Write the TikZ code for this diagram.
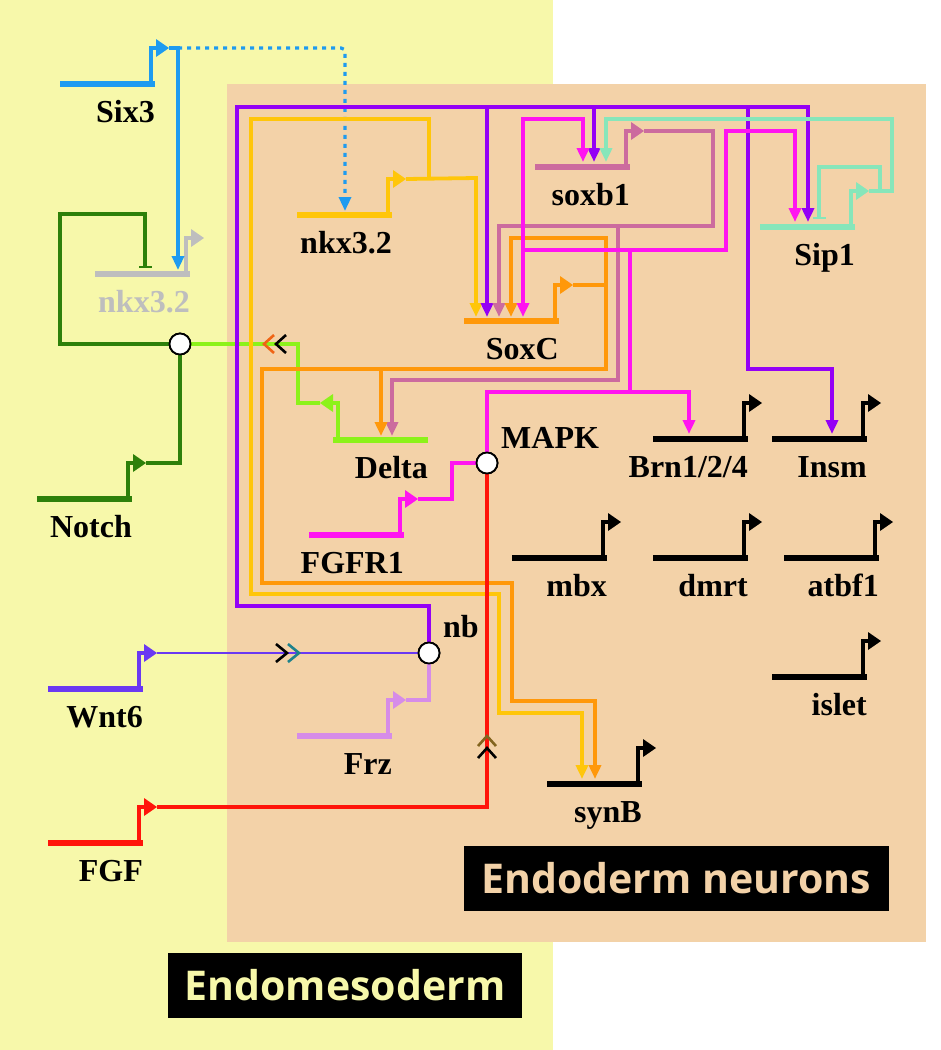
\documentclass[tikz,border=0pt]{standalone}
\usepackage{fontspec}
\setmainfont{Liberation Serif}
\newfontfamily\regionfont{Open Sans}
\usetikzlibrary{arrows.meta}

\definecolor{yellowbg}{RGB}{247,248,170}
\definecolor{peachbg}{RGB}{243,210,168}
\definecolor{sixblue}{RGB}{30,155,240}
\definecolor{nkxgray}{RGB}{190,190,190}
\definecolor{notchgreen}{RGB}{46,128,10}
\definecolor{deltagreen}{RGB}{140,242,26}
\definecolor{nkxyellow}{RGB}{255,198,10}
\definecolor{soxbmauve}{RGB}{204,107,158}
\definecolor{soxcorange}{RGB}{255,152,10}
\definecolor{sipaqua}{RGB}{135,230,186}
\definecolor{mapkmag}{RGB}{255,20,240}
\definecolor{nbpurple}{RGB}{148,0,245}
\definecolor{wntviolet}{RGB}{106,56,242}
\definecolor{frzlilac}{RGB}{214,140,232}
\definecolor{fgfred}{RGB}{255,20,10}
\definecolor{chevorange}{RGB}{240,100,20}
\definecolor{chevteal}{RGB}{30,130,140}
\definecolor{chevolive}{RGB}{130,100,30}

% gene: [label colour] name, bar end x, bar y, colour, text
\newcommand{\gene}[6][black]{%
  \draw[genebar,#5] (#3-95,#4) -- (#3,#4);
  \draw[genestem,#5] (#3-4,#4+2) -- (#3-4,#4-36) -- (#3+2,#4-36);
  \fill[#5] (#3+1,#4-45) -- (#3+14,#4-36) -- (#3+1,#4-27) -- cycle;
  \coordinate (#2) at (#3+14,#4-36);
  \node[genelab,text=#1,anchor=base east] (#2lab) at (#3,#4+38) {#6};
}

\begin{document}
\begin{tikzpicture}[x=1pt, y=-1pt,
    genebar/.style={line width=6pt},
    genestem/.style={line width=4.5pt},
    genelab/.style={font=\bfseries\fontsize{32}{34}\selectfont, inner sep=0pt},
    wire/.style={line width=3.8pt},
    thinwire/.style={line width=3.2pt},
    arr/.style={-{Triangle[length=14pt,width=12pt]}},
    stop/.style={-{Bar[width=13pt,line width=2.5pt]}},
    chev/.style={line width=2.6pt},
    junc/.style={circle, draw=black, fill=white, line width=1.8pt, minimum size=21pt, inner sep=0pt},
    regionlab/.style={fill=black, font=\regionfont\bfseries\fontsize{41}{44}\selectfont, minimum height=65pt, inner sep=0pt}]

  \useasboundingbox (0,0) rectangle (941,1050);

  % regions
  \fill[yellowbg] (0,0) rectangle (553,1050);
  \fill[peachbg] (227,84) rectangle (926,942);

  % junctions
  \node[junc] (notchc) at (180,344) {};
  \node[junc] (mapk) at (487,463) {};
  \node[junc] (nbc) at (429,653) {};
  \node[genelab, anchor=base west] (mapklab) at (501,448) {MAPK};
  \node[genelab, anchor=base west] (nblab) at (443,637) {nb};

  % genes
  \gene{six}{155}{84}{sixblue}{Six3}
  \gene[nkxgray]{nkxg}{190}{274}{nkxgray}{nkx3.2}
  \gene{notch}{132}{499}{notchgreen}{Notch}
  \gene{nkx}{392}{215}{nkxyellow}{nkx3.2}
  \gene{soxb}{630}{167}{soxbmauve}{soxb1}
  \gene{soxc}{559}{321}{soxcorange}{SoxC}
  \gene{sip}{855}{227}{sipaqua}{Sip1}
  \gene{fgfr}{404}{535}{mapkmag}{FGFR1}
  \gene{wnt}{143}{689}{wntviolet}{Wnt6}
  \gene{frz}{392}{736}{frzlilac}{Frz}
  \gene{fgf}{143}{843}{fgfred}{FGF}
  \gene{brn}{748}{439}{black}{Brn1/2/4}
  \gene{insm}{867}{439}{black}{Insm}
  \gene{mbx}{607}{558}{black}{mbx}
  \gene{dmrt}{748}{558}{black}{dmrt}
  \gene{atbf}{879}{558}{black}{atbf1}
  \gene{islet}{867}{677}{black}{islet}
  \gene{synb}{642}{784}{black}{synB}

  % Delta (bent arrow points left)
  \draw[genebar,deltagreen] (333,440) -- (428,440);
  \draw[genestem,deltagreen] (338,442) -- (338,403) -- (332,403);
  \fill[deltagreen] (333,394) -- (320,403) -- (333,412) -- cycle;
  \coordinate (delta) at (320,403);
  \node[genelab, anchor=base east] (deltalab) at (428,478) {Delta};

  % Six3
  \draw[thinwire,sixblue,arr] (six) -- (178,48) -- (178,270);
  \draw[thinwire,sixblue,arr,dash pattern=on 4pt off 5pt,rounded corners=4pt] (178,48) -- (345,48) -- (345,211);

  % Notch
  \draw[thinwire,notchgreen] (notch) -| (notchc.south);
  \draw[thinwire,notchgreen,stop] (notchc.west) -- (60,344) -- (60,214) -- (145,214) -- (145,268);

  % Delta to Notch
  \draw[thinwire,deltagreen] (delta) -- (298,403) -- (298,344) -- (notchc.east);
  \draw[chev,chevorange] (274,335) -- (264,344) -- (274,353);
  \draw[chev,black] (286,335) -- (276,344) -- (286,353);

  % nkx3.2
  \draw[wire,nkxyellow,arr] (nkx) -- (476,178) -- (476,317);
  \draw[wire,nkxyellow,arr] (429,178) -- (429,119) -- (251,119) -- (251,594) -- (499,594) -- (499,713) -- (582,713) -- (582,779);

  % nb
  \draw[wire,nbpurple,arr] (nbc.north) -- (429,606) -- (237,606) -- (237,107) -- (808,107) -- (808,222);
  \draw[wire,nbpurple,arr] (487,107) -- (487,317);
  \draw[wire,nbpurple,arr] (594,107) -- (594,162);
  \draw[wire,nbpurple,arr] (748,107) -- (748,369) -- (832,369) -- (832,434);

  % soxb1
  \draw[wire,soxbmauve,arr] (soxb) -- (713,131) -- (713,226) -- (499,226) -- (499,317);
  \draw[wire,soxbmauve,arr] (618,226) -- (618,380) -- (392,380) -- (392,436);

  % SoxC
  \draw[wire,soxcorange,arr] (soxc) -- (606,285) -- (606,238) -- (511,238) -- (511,317);
  \draw[wire,soxcorange,arr] (606,285) -- (606,369) -- (262,369) -- (262,583) -- (512,583) -- (512,701) -- (595,701) -- (595,779);
  \draw[wire,soxcorange,arr] (381,369) -- (381,436);

  % Sip1
  \draw[wire,sipaqua,arr] (sip) -- (892,191) -- (892,119) -- (606,119) -- (606,162);
  \draw[wire,sipaqua,stop] (880,191) -- (880,167) -- (819,167) -- (819,219);

  % MAPK
  \draw[wire,mapkmag] (fgfr) -- (452,499) -- (452,463) -- (mapk.west);
  \draw[wire,mapkmag,arr] (mapk.north) -- (487,392) -- (689,392) -- (689,434);
  \draw[wire,mapkmag] (630,392) -- (630,250) -- (523,250);
  \draw[wire,mapkmag,arr] (630,250) -- (726,250) -- (726,131) -- (795,131) -- (795,222);
  \draw[wire,mapkmag,arr] (583,119) -- (523,119) -- (523,317);
  \draw[wire,mapkmag,arr] (523,119) -- (583,119) -- (583,162);

  % Wnt6 and Frz
  \draw[line width=2.6pt,wntviolet] (wnt) -- (nbc.west);
  \draw[chev,black] (276,644) -- (287,653) -- (276,662);
  \draw[chev,chevteal] (288,644) -- (299,653) -- (288,662);
  \draw[thinwire,frzlilac] (frz) -| (nbc.south);

  % FGF
  \draw[thinwire,fgfred] (fgf) -| (mapk.south);
  \draw[chev,chevolive] (478,746) -- (487,736) -- (496,746);
  \draw[chev,black] (478,758) -- (487,748) -- (496,758);

  % redraw junctions on top
  \node[junc] at (notchc) {};
  \node[junc] at (mapk) {};
  \node[junc] at (nbc) {};

  % region labels
  \node[regionlab, text=peachbg, minimum width=425pt] (neurlab) at (676,878) {Endoderm neurons};
  \node[regionlab, text=yellowbg, minimum width=354pt] (mesolab) at (345,985) {Endomesoderm};
\end{tikzpicture}
\end{document}
